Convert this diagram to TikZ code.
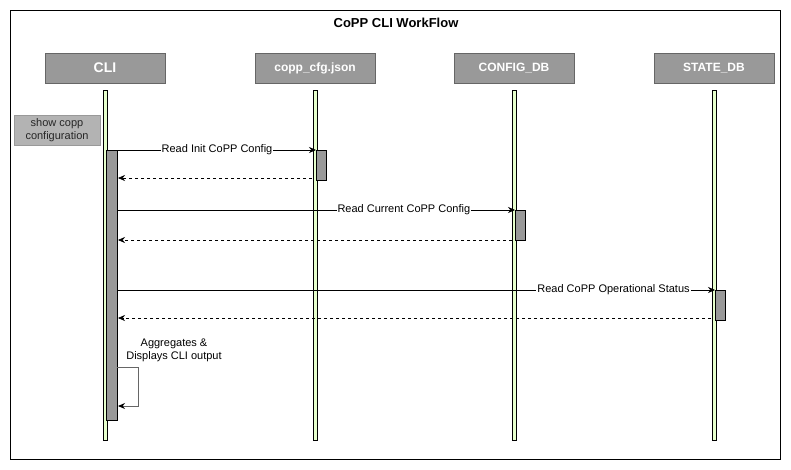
\documentclass[tikz,border=0pt]{standalone}
\usepackage{fontspec}
\setmainfont{Liberation Sans}
\usetikzlibrary{arrows.meta}
\definecolor{hdr}{HTML}{999999}
\definecolor{hdrb}{HTML}{666666}
\definecolor{life}{HTML}{E6FFCC}
\definecolor{showf}{HTML}{B3B3B3}
\begin{document}
\begin{tikzpicture}[x=1pt,y=-1pt,
  header/.style={draw=hdrb,fill=hdr,text=white,font=\bfseries\fontsize{12}{14}\selectfont,minimum width=120pt,minimum height=30pt,inner sep=0pt},
  lifeline/.style={draw=black,fill=life,line width=0.6pt},
  actbar/.style={draw=black,fill=hdr,line width=0.6pt},
  msg/.style={-{Stealth[length=7pt,width=6pt]},line width=0.6pt},
  ret/.style={msg,dashed,dash pattern=on 3pt off 3pt},
  lbl/.style={fill=white,inner sep=1pt,font=\fontsize{11}{13}\selectfont}]
\useasboundingbox (0,0) rectangle (791,469);
\draw[line width=0.8pt] (10,10) rectangle (780,459);
\node[font=\bfseries\fontsize{13}{15}\selectfont] (title) at (396,23) {CoPP CLI WorkFlow};
% headers
\node[header,font=\bfseries\fontsize{14}{16}\selectfont] (hcli) at (105,68) {CLI};
\node[header] (hcopp) at (315,68) {copp\_cfg.json};
\node[header] (hcfg) at (514,68) {CONFIG\_DB};
\node[header] (hst) at (714,68) {STATE\_DB};
% lifelines
\draw[lifeline] (103,90) rectangle (107,440);
\draw[lifeline] (313,90) rectangle (317,440);
\draw[lifeline] (512,90) rectangle (516,440);
\draw[lifeline] (712,90) rectangle (716,440);
% activation bars
\draw[actbar] (106.5,150) rectangle (117,420);
\draw[actbar] (316.5,150) rectangle (326,180);
\draw[actbar] (515.5,210) rectangle (525,240);
\draw[actbar] (715.5,290) rectangle (725,320);
% coordinates
\coordinate (a1) at (118,150); \coordinate (b1) at (316,150);
\coordinate (a2) at (312,178); \coordinate (b2) at (118,178);
\coordinate (a3) at (118,210); \coordinate (b3) at (515,210);
\coordinate (a4) at (512,240); \coordinate (b4) at (118,240);
\coordinate (a5) at (118,290); \coordinate (b5) at (715,290);
\coordinate (a6) at (711,318); \coordinate (b6) at (118,318);
\coordinate (s1) at (117,367); \coordinate (s2) at (118,406);
% show box
\node[draw=hdr,fill=showf,minimum width=86pt,minimum height=30pt,inner sep=0pt,align=center,text=black!85,font=\fontsize{11}{13}\selectfont] (show) at (57,130) {show copp\\configuration};
% messages
\draw[msg] (a1) -- node[lbl] (l1) {Read Init CoPP Config} (b1);
\draw[ret] (a2) -- (b2);
\draw[msg] (a3) -- node[lbl,pos=0.72] (l3) {Read Current CoPP Config} (b3);
\draw[ret] (a4) -- (b4);
\draw[msg] (a5) -- node[lbl,pos=0.83] (l5) {Read CoPP Operational Status} (b5);
\draw[ret] (a6) -- (b6);
% self loop
\draw[-{Stealth[length=7pt,width=6pt,color=black]},line width=0.9pt,draw=black!60] (s1) -| (138,406) -- (s2);
\node[align=center,font=\fontsize{11}{13}\selectfont] (agg) at (174,350) {Aggregates \&\\Displays CLI output};
\end{tikzpicture}
\end{document}
